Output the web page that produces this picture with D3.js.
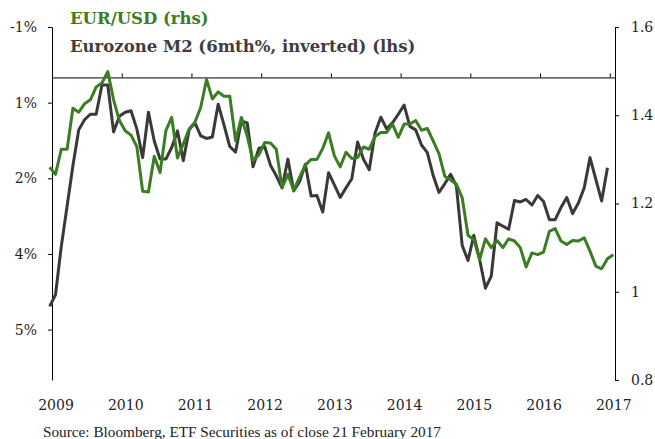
<!DOCTYPE html>
<html>
<head>
<meta charset="utf-8">
<script src="https://cdnjs.cloudflare.com/ajax/libs/d3/7.8.5/d3.min.js"></script>
<style>
  body { margin: 0; background: #fff; }
  .axis text { font-family: "DejaVu Serif", Georgia, serif; font-size: 14px; fill: #222; }
  .axis path, .axis line { stroke: #000; }
</style>
</head>
<body>
<script>

// Data: monthly, Jan 2009 onwards

let years = ['2009', '2010', '2011', '2012', '2013', '2014', '2015', '2016', '2017']

// Eurozone M2 6mth % (plotted on inverted left axis), Jan 2009 - Jan 2017
let m2 = [
  4.54, 4.31, 3.35, 2.55, 1.75, 1.04, 0.84, 0.73, 0.73, 0.15, 0.15, 1.08,
  0.77, 0.69, 0.66, 1.02, 1.59, 0.69, 1.26, 1.62, 1.62, 1.39, 1.06, 1.65,
  1.04, 0.90, 1.16, 1.21, 1.18, 0.53, 0.94, 1.37, 1.48, 0.86, 0.90, 1.77,
  1.41, 1.37, 1.74, 1.95, 2.19, 1.62, 2.25, 2.07, 1.72, 2.35, 2.34, 2.67,
  1.89, 2.13, 2.38, 2.19, 2.01, 1.28, 1.62, 1.83, 1.10, 0.79, 1.02, 0.90,
  0.73, 0.55, 0.97, 1.04, 1.34, 1.49, 1.94, 2.28, 2.11, 1.92, 2.15, 3.33,
  3.63, 3.13, 3.61, 4.18, 3.94, 2.88, 2.95, 3.01, 2.44, 2.47, 2.42, 2.53,
  2.34, 2.46, 2.82, 2.82, 2.58, 2.38, 2.70, 2.49, 2.19, 1.59, 2.02, 2.45,
  1.79
]

// EUR/USD, Jan 2009 - Feb 2017
let eurusd = [
  1.282, 1.266, 1.323, 1.323, 1.416, 1.407, 1.426, 1.435, 1.464, 1.473, 1.499, 1.435,
  1.388, 1.365, 1.355, 1.329, 1.228, 1.226, 1.307, 1.270, 1.365, 1.395, 1.303, 1.335,
  1.369, 1.384, 1.418, 1.481, 1.437, 1.453, 1.443, 1.443, 1.342, 1.395, 1.353, 1.297,
  1.310, 1.338, 1.337, 1.323, 1.236, 1.266, 1.230, 1.259, 1.287, 1.300, 1.300, 1.325,
  1.360, 1.308, 1.283, 1.316, 1.302, 1.304, 1.328, 1.323, 1.352, 1.361, 1.361, 1.380,
  1.350, 1.380, 1.380, 1.388, 1.366, 1.370, 1.342, 1.313, 1.262, 1.253, 1.244, 1.213,
  1.128, 1.118, 1.073, 1.120, 1.100, 1.116, 1.100, 1.120, 1.115, 1.100, 1.056, 1.088,
  1.084, 1.090, 1.137, 1.143, 1.115, 1.107, 1.116, 1.115, 1.122, 1.092, 1.058, 1.052,
  1.075, 1.084
]

let leftTicks = [-1, 0.5, 2, 3.5, 5]
let leftLabels = ['-1%', '1%', '2%', '4%', '5%']
let rightTicks = [1.6, 1.4, 1.2, 1.0, 0.8]
let rightLabels = ['1.6', '1.4', '1.2', '1', '0.8']

// Container sizing

let width = 655
let height = 439

let plot = { left: 52, right: 615, top: 27, bottom: 380 }

let svg = d3.select('body')
  .append('svg')
  .attr('width', width)
  .attr('height', height)

// Scales (x in months since Jan 2009, axis starts mid-Jan)

let xScale = d3.scaleLinear()
  .domain([0.4, 97.3])
  .range([plot.left, plot.right])

let yLeft = d3.scaleLinear()
  .domain([-1, 6])
  .range([plot.top, plot.bottom])

let yRight = d3.scaleLinear()
  .domain([0.8, 1.6])
  .range([plot.bottom, plot.top])

let yearTicks = years.map((y, i) => 0.4 + 12 * i)

// Axes

svg.append('g')
  .attr('class', 'axis')
  .attr('transform', `translate(${plot.left}, 0)`)
  .call(d3.axisLeft(yLeft).tickValues(leftTicks).tickFormat((d, i) => leftLabels[i])
    .tickSize(4).tickSizeOuter(0).tickPadding(11))

svg.append('g')
  .attr('class', 'axis')
  .attr('transform', `translate(${plot.right}, 0)`)
  .call(d3.axisRight(yRight).tickValues(rightTicks).tickFormat((d, i) => rightLabels[i])
    .tickSize(4).tickSizeOuter(0).tickPadding(12))

// horizontal axis crosses at 0% on the left scale
svg.append('g')
  .attr('class', 'axis')
  .attr('transform', `translate(0, ${yLeft(0)})`)
  .call(d3.axisTop(xScale).tickValues(yearTicks).tickFormat('').tickSize(4).tickSizeOuter(0))

// year labels sit at the bottom of the plot
let bottomAxis = svg.append('g')
  .attr('class', 'axis')
  .attr('transform', `translate(3.5, ${plot.bottom})`)
  .call(d3.axisBottom(xScale).tickValues(yearTicks).tickFormat((d, i) => years[i])
    .tickSize(0).tickPadding(20))
bottomAxis.select('.domain').remove()

// Lines

let m2Line = d3.line()
  .x((d, i) => xScale(i))
  .y(d => yLeft(d))

let fxLine = d3.line()
  .x((d, i) => xScale(i))
  .y(d => yRight(d))

svg.append('path')
  .datum(m2)
  .attr('d', m2Line)
  .attr('fill', 'none')
  .attr('stroke', '#3b3838')
  .attr('stroke-width', 3)
  .attr('stroke-linejoin', 'round')

svg.append('path')
  .datum(eurusd)
  .attr('d', fxLine)
  .attr('fill', 'none')
  .attr('stroke', '#3a7d22')
  .attr('stroke-width', 3)
  .attr('stroke-linejoin', 'round')

// Legend labels

svg.append('text')
  .attr('x', 70)
  .attr('y', 24)
  .attr('font-family', '"DejaVu Serif", Georgia, serif')
  .attr('font-weight', 'bold')
  .attr('font-size', 16.5)
  .attr('fill', '#3a7d22')
  .text('EUR/USD (rhs)')

svg.append('text')
  .attr('x', 70)
  .attr('y', 52)
  .attr('font-family', '"DejaVu Serif", Georgia, serif')
  .attr('font-weight', 'bold')
  .attr('font-size', 16.5)
  .attr('fill', '#3f3d3d')
  .text('Eurozone M2 (6mth%, inverted) (lhs)')

// Source

svg.append('text')
  .attr('x', 43)
  .attr('y', 437)
  .attr('font-family', '"Liberation Serif", "Times New Roman", serif')
  .attr('font-size', 15)
  .attr('textLength', 398)
  .attr('lengthAdjust', 'spacingAndGlyphs')
  .attr('fill', '#222')
  .text('Source: Bloomberg, ETF Securities as of close 21 February 2017')

</script>
</body>
</html>
